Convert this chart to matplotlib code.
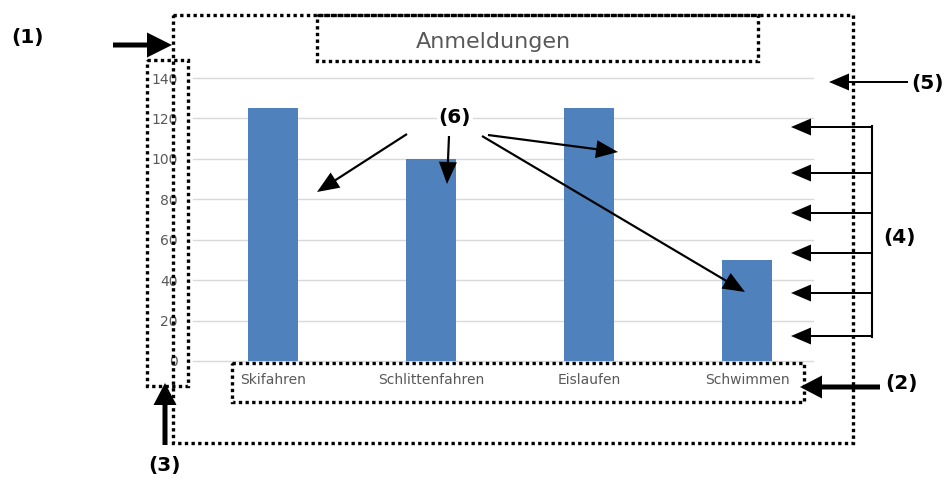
import matplotlib.pyplot as plt
from matplotlib.patches import Rectangle, FancyArrow

# ---------------- DATA ----------------
categories = ["Skifahren", "Schlittenfahren", "Eislaufen", "Schwimmen"]
anmeldungen = [125, 100, 125, 50]
y_ticks = [0, 20, 40, 60, 80, 100, 120, 140]
title = "Anmeldungen"

# ---------------- FIGURE ----------------
W, H = 949, 480
fig = plt.figure(figsize=(W / 100, H / 100), dpi=100)
fig.patch.set_facecolor("white")

def px_box(left, top, right, bottom):
    return [left / W, 1 - bottom / H, (right - left) / W, (bottom - top) / H]

ax = fig.add_axes(px_box(193, 78, 813, 361))
ax.bar(range(len(categories)), anmeldungen, width=0.316, color="#4F81BD", zorder=2)
ax.set_xlim(-0.506, 3.418)
ax.set_ylim(0, 140)
ax.set_yticks(y_ticks)
ax.set_xticks(range(len(categories)))
ax.set_xticklabels(categories)
ax.tick_params(axis="both", length=0, labelsize=10, labelcolor="#595959")
ax.tick_params(axis="y", pad=11)
ax.tick_params(axis="x", pad=9)
ax.grid(axis="y", color="#D9D9D9", lw=1)
ax.set_axisbelow(True)
for s in ax.spines.values():
    s.set_visible(False)
for gl in ax.get_ygridlines():
    gl.set_clip_on(False)

fig.text(493 / W, 1 - 42 / H, title, ha="center", va="center",
         fontsize=16, color="#595959")

# ---------------- ANNOTATION OVERLAY (pixel coords) ----------------
ov = fig.add_axes([0, 0, 1, 1], zorder=10)
ov.set_xlim(0, W)
ov.set_ylim(H, 0)
ov.axis("off")
ov.patch.set_alpha(0)

boxes = [
    (173, 15, 853, 443),   # (1) chart area
    (317, 15, 758, 61),    # title
    (147, 60, 188, 386),   # (3) y axis
    (232, 363, 804, 402),  # (2) x axis labels
]
for l, t, r, b in boxes:
    ov.add_patch(Rectangle((l, t), r - l, b - t, fill=False, edgecolor="black",
                           lw=2.4, linestyle=(0, (1, 1))))

# start x, start y, tip x, tip y, shaft, head width, head length
arrows = [
    (113, 45, 172, 45, 5, 25, 25),
    (880, 387, 800, 387, 5, 23, 22),
    (165, 445, 165, 383, 5, 23, 22),
    (908, 82, 829, 82, 2, 17, 20),
    (407, 134, 317, 192, 2.2, 18, 22),
    (449, 136, 447, 184, 2.2, 18, 22),
    (488, 135, 618, 152, 2.2, 18, 22),
    (482, 136, 745, 292, 2.2, 18, 22),
]
for y in [127, 173, 213, 253, 293, 336]:
    arrows.append((872, y, 791, y, 2, 17, 20))

for x0, y0, x1, y1, w, hw, hl in arrows:
    ov.add_patch(FancyArrow(x0, y0, x1 - x0, y1 - y0, width=w, head_width=hw,
                            head_length=hl, length_includes_head=True,
                            color="black", lw=0))

# bracket for (4)
ov.plot([872, 872], [126, 337], color="black", lw=1.5)

labels = [
    ("(1)", 28, 38),
    ("(2)", 902, 383),
    ("(3)", 165, 466),
    ("(4)", 900, 238),
    ("(5)", 928, 84),
]
for txt, x, y in labels:
    ov.text(x, y, txt, ha="center", va="center", fontsize=14.5, fontweight="bold")
ov.text(455, 118, "(6)", ha="center", va="center", fontsize=14.5, fontweight="bold",
        bbox=dict(facecolor="white", edgecolor="none", pad=1))

fig.savefig("out.png", dpi=100)
